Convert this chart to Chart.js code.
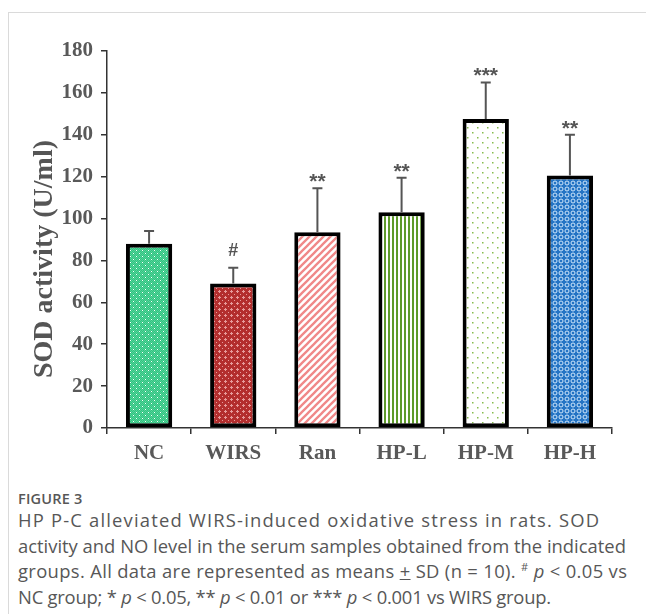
<!DOCTYPE html>
<html><head><meta charset="utf-8">
<script src="https://cdn.jsdelivr.net/npm/chart.js@4"></script>
<style>
html,body{margin:0;padding:0;background:#fff;}
body{width:646px;height:614px;overflow:hidden;position:relative;}
#card{position:absolute;left:8px;top:12px;width:700px;height:700px;border-top:1px solid #dadada;border-left:1px solid #dadada;}
#wrap{position:absolute;left:0;top:0;width:646px;height:470px;}
#cap{position:absolute;left:18px;top:490px;font-family:"Open Sans",sans-serif;color:#575757;white-space:nowrap;}
.fig{font-size:14.5px;font-weight:600;line-height:18px;letter-spacing:0.2px;}
.txt{font-size:18.4px;line-height:25.5px;margin-top:-1px;}
.txt span{display:block;}
sup{font-size:11px;line-height:0;vertical-align:super;}
</style>
</head><body>
<div id="card"></div>
<div id="wrap"><canvas id="c" width="646" height="470"></canvas></div>
<div id="cap">
<div class="fig">FIGURE 3</div>
<div class="txt"><span style="letter-spacing:1.18px">HP P-C alleviated WIRS-induced oxidative stress in rats. SOD</span><span>activity and NO level in the serum samples obtained from the indicated</span><span style="letter-spacing:0.34px">groups. All data are represented as means <u>+</u> SD (n = 10). <sup>#</sup> <i>p</i> &lt; 0.05 vs</span><span style="letter-spacing:-0.22px">NC group; * <i>p</i> &lt; 0.05, ** <i>p</i> &lt; 0.01 or *** <i>p</i> &lt; 0.001 vs WIRS group.</span></div>
</div>
<script>
const categories = ["NC", "WIRS", "Ran", "HP-L", "HP-M", "HP-H"];
const sodMeans = [88, 69, 93.5, 103, 147.5, 120.5];
const sodSD = [6, 7.5, 21, 16.5, 17.5, 19.5];
const significance = ["", "#", "**", "**", "***", "**"];
const yTicks = [0, 20, 40, 60, 80, 100, 120, 140, 160, 180];
const yTitle = "SOD activity (U/ml)";

function tile(w, h, draw) {
  const c = document.createElement('canvas');
  c.width = w; c.height = h;
  const g = c.getContext('2d');
  draw(g, w, h);
  return document.getElementById('c').getContext('2d').createPattern(c, 'repeat');
}
function px(g, x, y, col) { g.fillStyle = col; g.fillRect(x, y, 1, 1); }

const patterns = [
  tile(6, 6, (g) => { // NC
    g.fillStyle = '#2fc480'; g.fillRect(0, 0, 6, 6);
    for (let y = 0; y < 6; y++) for (let x = 0; x < 6; x++) if ((x + y) % 2 === 0) px(g, x, y, '#56d39a');
    px(g, 1, 1, '#ffffff'); px(g, 4, 4, '#ffffff');
  }),
  tile(6, 6, (g) => { // WIRS
    g.fillStyle = '#b32e2e'; g.fillRect(0, 0, 6, 6);
    [[3,2],[2,3],[3,3],[4,3],[3,4],[0,0]].forEach(p => px(g, p[0], p[1], '#e79c9c'));
  }),
  tile(7, 7, (g) => { // Ran
    g.fillStyle = '#ffffff'; g.fillRect(0, 0, 7, 7);
    g.strokeStyle = '#f08888'; g.lineWidth = 2.3;
    g.beginPath();
    g.moveTo(-2, 9); g.lineTo(9, -2);
    g.moveTo(-2, 2); g.lineTo(2, -2);
    g.moveTo(5, 9); g.lineTo(9, 5);
    g.stroke();
  }),
  tile(4, 4, (g) => { // HP-L
    g.fillStyle = '#ffffff'; g.fillRect(0, 0, 4, 4);
    g.fillStyle = '#5e9a2a'; g.fillRect(0, 0, 2, 4);
  }),
  tile(10, 10, (g) => { // HP-M
    g.fillStyle = '#ffffff'; g.fillRect(0, 0, 10, 10);
    g.fillStyle = '#86bb4e'; g.fillRect(2, 2, 1.5, 1.5); g.fillRect(7, 7, 1.5, 1.5);
  }),
  tile(6, 6, (g) => { // HP-H
    g.fillStyle = '#2474c4'; g.fillRect(0, 0, 6, 6);
    g.strokeStyle = '#cfe6fb'; g.lineWidth = 1;
    g.beginPath(); g.arc(3, 3, 2, 0, Math.PI * 2); g.stroke();
  })
];

const errorBarPlugin = {
  id: 'errorBars',
  afterDatasetsDraw(chart) {
    const ctx = chart.ctx;
    const meta = chart.getDatasetMeta(0);
    const ys = chart.scales.y;
    ctx.save();
    meta.data.forEach((bar, i) => {
      const x = bar.x;
      const yTop = ys.getPixelForValue(sodMeans[i]);
      const yCap = ys.getPixelForValue(sodMeans[i] + sodSD[i]);
      ctx.strokeStyle = '#555555';
      ctx.lineWidth = 2;
      ctx.beginPath();
      ctx.moveTo(x, yTop); ctx.lineTo(x, yCap);
      ctx.moveTo(x - 5, yCap); ctx.lineTo(x + 5, yCap);
      ctx.stroke();
      const s = significance[i];
      if (s) {
        ctx.fillStyle = '#555555';
        ctx.textAlign = 'center';
        ctx.textBaseline = 'middle';
        if (s === '#') {
          ctx.font = 'bold 18px "Liberation Sans"';
          ctx.fillText(s, x, yCap - 17);
        } else {
          ctx.font = 'bold 21px "Liberation Sans"';
          ctx.fillText(s, x, yCap - 6);
        }
      }
    });
    ctx.restore();
  }
};

const yTitlePlugin = {
  id: 'yTitle',
  afterDraw(chart) {
    const ctx = chart.ctx;
    ctx.save();
    ctx.translate(45, 259);
    ctx.rotate(-Math.PI / 2);
    ctx.font = 'bold 28px "Liberation Serif"';
    ctx.fillStyle = '#555555';
    ctx.textAlign = 'center';
    ctx.textBaseline = 'middle';
    ctx.fillText(yTitle, 0, 0);
    ctx.restore();
  }
};

const tickFont = { family: '"Liberation Serif"', weight: 'bold', size: 21 };

new Chart(document.getElementById('c'), {
  type: 'bar',
  data: {
    labels: categories,
    datasets: [{
      data: sodMeans,
      backgroundColor: patterns,
      borderColor: '#000000',
      borderWidth: 4,
      borderSkipped: false,
      barPercentage: 0.55,
      categoryPercentage: 1
    }]
  },
  options: {
    responsive: false,
    devicePixelRatio: 1,
    animation: false,
    layout: { padding: { top: 51, right: 34, bottom: 0, left: 0 } },
    plugins: { legend: { display: false }, tooltip: { enabled: false } },
    scales: {
      x: {
        grid: { display: true, drawOnChartArea: false, drawTicks: true, tickLength: 6, color: '#333333', lineWidth: 1.5 },
        border: { color: '#333333', width: 1.5 },
        ticks: { color: '#595959', font: tickFont, padding: 7 },
        afterFit: (s) => { s.height = 42; }
      },
      y: {
        min: 0, max: 180,
        afterBuildTicks: (s) => { s.ticks = yTicks.map(v => ({ value: v })); },
        grid: { display: true, drawOnChartArea: false, drawTicks: true, tickLength: 6, color: '#333333', lineWidth: 1.5 },
        border: { color: '#333333', width: 1.5 },
        ticks: { color: '#595959', font: tickFont, padding: 8 },
        afterFit: (s) => { s.width = 107; }
      }
    }
  },
  plugins: [errorBarPlugin, yTitlePlugin]
});
</script>
</body></html>
